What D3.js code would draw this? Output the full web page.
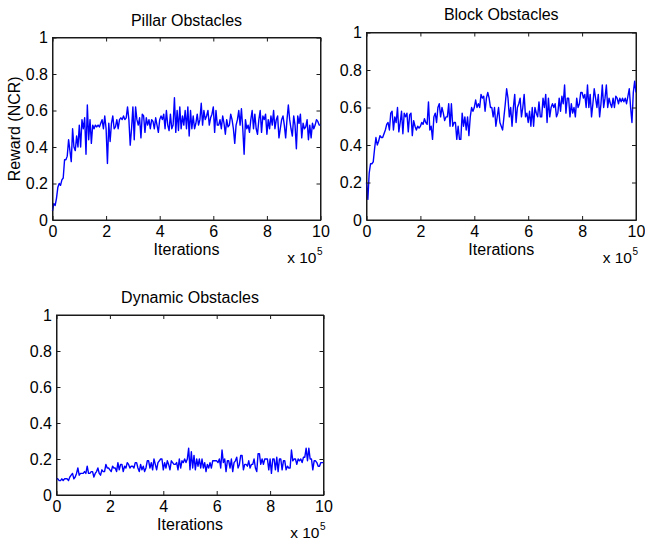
<!DOCTYPE html>
<html>
<head>
<meta charset="utf-8">
<script src="https://cdn.jsdelivr.net/npm/d3@7"></script>
<style>
  html, body { margin: 0; padding: 0; background: #fff; }
  svg { display: block; font-family: Arial, "Liberation Sans", sans-serif; }
</style>
</head>
<body>
<svg id="chart" width="645" height="544"></svg>
<script>
// ---- data ----
const iterationStep = 5000; // one sample every 5000 iterations (0 .. 1e6)

const pillarReward = [
  0.05, 0.09, 0.08, 0.12, 0.18, 0.20, 0.19, 0.22, 0.23, 0.33,
  0.33, 0.35, 0.44, 0.38, 0.32, 0.50, 0.40, 0.38, 0.46, 0.40,
  0.52, 0.40, 0.55, 0.50, 0.56, 0.36, 0.63, 0.44, 0.55, 0.42,
  0.52, 0.50, 0.52, 0.51, 0.52, 0.51, 0.53, 0.55, 0.50, 0.57,
  0.50, 0.31, 0.53, 0.43, 0.53, 0.57, 0.50, 0.51, 0.55, 0.50,
  0.55, 0.56, 0.55, 0.57, 0.55, 0.56, 0.62, 0.55, 0.41, 0.50,
  0.62, 0.44, 0.62, 0.55, 0.52, 0.56, 0.45, 0.58, 0.57, 0.48,
  0.56, 0.52, 0.55, 0.50, 0.55, 0.54, 0.50, 0.56, 0.52, 0.48,
  0.55, 0.57, 0.55, 0.58, 0.50, 0.60, 0.52, 0.49, 0.58, 0.50,
  0.52, 0.67, 0.48, 0.60, 0.49, 0.62, 0.50, 0.57, 0.52, 0.60,
  0.50, 0.62, 0.46, 0.60, 0.50, 0.57, 0.50, 0.53, 0.58, 0.52,
  0.55, 0.64, 0.52, 0.60, 0.55, 0.57, 0.60, 0.52, 0.56, 0.58,
  0.62, 0.48, 0.60, 0.52, 0.52, 0.55, 0.50, 0.57, 0.53, 0.47,
  0.55, 0.51, 0.52, 0.58, 0.55, 0.50, 0.42, 0.52, 0.55, 0.60,
  0.52, 0.61, 0.50, 0.36, 0.55, 0.50, 0.52, 0.48, 0.55, 0.60,
  0.50, 0.58, 0.50, 0.47, 0.55, 0.60, 0.48, 0.57, 0.55, 0.58,
  0.47, 0.55, 0.50, 0.57, 0.52, 0.60, 0.50, 0.55, 0.57, 0.45,
  0.50, 0.55, 0.57, 0.52, 0.45, 0.55, 0.63, 0.55, 0.50, 0.46,
  0.57, 0.52, 0.39, 0.57, 0.53, 0.58, 0.45, 0.53, 0.50, 0.51,
  0.55, 0.44, 0.52, 0.45, 0.53, 0.50, 0.52, 0.55, 0.54, 0.52,
  0.52
];

const blockReward = [
  0.20, 0.11, 0.25, 0.30, 0.30, 0.31, 0.38, 0.44, 0.40, 0.42,
  0.45, 0.44, 0.44, 0.46, 0.48, 0.51, 0.52, 0.48, 0.57, 0.58,
  0.48, 0.55, 0.52, 0.60, 0.47, 0.52, 0.58, 0.46, 0.57, 0.55,
  0.57, 0.47, 0.56, 0.57, 0.45, 0.53, 0.50, 0.48, 0.50, 0.49,
  0.50, 0.52, 0.51, 0.54, 0.52, 0.51, 0.63, 0.48, 0.50, 0.43,
  0.55, 0.57, 0.52, 0.60, 0.62, 0.55, 0.60, 0.57, 0.53, 0.55,
  0.55, 0.62, 0.50, 0.62, 0.50, 0.52, 0.52, 0.43, 0.50, 0.43,
  0.43, 0.57, 0.50, 0.55, 0.48, 0.55, 0.45, 0.55, 0.60, 0.58,
  0.60, 0.64, 0.60, 0.62, 0.60, 0.67, 0.65, 0.66, 0.58, 0.65,
  0.68, 0.65, 0.60, 0.60, 0.55, 0.60, 0.50, 0.55, 0.60, 0.52,
  0.50, 0.48, 0.55, 0.62, 0.70, 0.65, 0.55, 0.60, 0.50, 0.60,
  0.67, 0.52, 0.60, 0.62, 0.65, 0.55, 0.60, 0.67, 0.55, 0.57,
  0.52, 0.58, 0.50, 0.60, 0.50, 0.60, 0.57, 0.55, 0.63, 0.55,
  0.55, 0.65, 0.60, 0.67, 0.52, 0.65, 0.55, 0.60, 0.62, 0.60,
  0.62, 0.55, 0.57, 0.65, 0.58, 0.66, 0.62, 0.72, 0.57, 0.65,
  0.65, 0.55, 0.62, 0.57, 0.60, 0.55, 0.65, 0.60, 0.62, 0.68,
  0.68, 0.65, 0.67, 0.60, 0.72, 0.60, 0.67, 0.55, 0.62, 0.70,
  0.65, 0.60, 0.67, 0.55, 0.62, 0.72, 0.60, 0.65, 0.72, 0.60,
  0.65, 0.62, 0.60, 0.65, 0.60, 0.66, 0.65, 0.62, 0.65, 0.63,
  0.65, 0.63, 0.65, 0.62, 0.66, 0.70, 0.60, 0.52, 0.68, 0.74,
  0.68
];

const dynamicReward = [
  0.09, 0.09, 0.08, 0.08, 0.09, 0.08, 0.09, 0.09, 0.09, 0.08,
  0.10, 0.11, 0.12, 0.09, 0.10, 0.12, 0.15, 0.11, 0.12, 0.12,
  0.12, 0.13, 0.12, 0.16, 0.12, 0.12, 0.13, 0.13, 0.10, 0.12,
  0.13, 0.15, 0.12, 0.11, 0.14, 0.13, 0.13, 0.17, 0.15, 0.15,
  0.14, 0.13, 0.16, 0.15, 0.15, 0.13, 0.18, 0.14, 0.17, 0.17,
  0.13, 0.16, 0.15, 0.18, 0.17, 0.15, 0.16, 0.16, 0.15, 0.18,
  0.18, 0.15, 0.13, 0.17, 0.14, 0.16, 0.13, 0.15, 0.19, 0.19,
  0.15, 0.18, 0.14, 0.20, 0.17, 0.14, 0.18, 0.19, 0.20, 0.20,
  0.14, 0.18, 0.15, 0.19, 0.17, 0.14, 0.19, 0.18, 0.17, 0.17,
  0.18, 0.14, 0.20, 0.15, 0.19, 0.18, 0.20, 0.18, 0.20, 0.26,
  0.14, 0.24, 0.15, 0.22, 0.14, 0.20, 0.16, 0.20, 0.15, 0.20,
  0.15, 0.18, 0.13, 0.17, 0.15, 0.18, 0.15, 0.19, 0.19, 0.19,
  0.19, 0.18, 0.20, 0.15, 0.25, 0.18, 0.20, 0.13, 0.19, 0.19,
  0.15, 0.20, 0.13, 0.18, 0.19, 0.21, 0.15, 0.17, 0.22, 0.22,
  0.14, 0.17, 0.17, 0.16, 0.19, 0.15, 0.17, 0.17, 0.20, 0.15,
  0.13, 0.23, 0.23, 0.17, 0.20, 0.17, 0.20, 0.20, 0.20, 0.14,
  0.20, 0.12, 0.20, 0.20, 0.14, 0.21, 0.13, 0.20, 0.20, 0.14,
  0.19, 0.19, 0.14, 0.16, 0.15, 0.15, 0.25, 0.19, 0.20, 0.20,
  0.17, 0.20, 0.19, 0.20, 0.18, 0.21, 0.21, 0.26, 0.19, 0.26,
  0.20, 0.20, 0.14, 0.19, 0.19, 0.18, 0.16, 0.16, 0.18, 0.18,
  0.18
];

const panelTitles = ["Pillar Obstacles", "Block Obstacles", "Dynamic Obstacles"];
const xTicks = [0, 200000, 400000, 600000, 800000, 1000000];
const yTicks = [0, 0.2, 0.4, 0.6, 0.8, 1];
const xLabel = "Iterations";
const yLabel = "Reward (NCR)";

// ---- layout (positions only) ----
const panels = [
  { title: panelTitles[0], values: pillarReward,  left: 52.5,  right: 320.5, top: 37.5, bottom: 220, titleY: 26, yLabel: true },
  { title: panelTitles[1], values: blockReward,   left: 366.5, right: 636,   top: 32.5, bottom: 220, titleY: 20, yLabel: false },
  { title: panelTitles[2], values: dynamicReward, left: 56.5,  right: 323.5, top: 315,  bottom: 495, titleY: 303, yLabel: false }
];

const svg = d3.select("#chart");
const FONT = "Arial, 'Liberation Sans', sans-serif";

panels.forEach(p => {
  const x = d3.scaleLinear().domain([0, 1000000]).range([p.left, p.right]);
  const y = d3.scaleLinear().domain([0, 1]).range([p.bottom, p.top]);
  const g = svg.append("g");

  // frame
  g.append("rect")
    .attr("x", p.left).attr("y", p.top)
    .attr("width", p.right - p.left).attr("height", p.bottom - p.top)
    .attr("fill", "none").attr("stroke", "#1a1a1a").attr("stroke-width", 1);

  // data line
  const line = d3.line()
    .x((d, i) => x(i * iterationStep))
    .y(d => y(d));
  g.append("path")
    .datum(p.values)
    .attr("fill", "none")
    .attr("stroke", "#0000ff")
    .attr("stroke-width", 1.4)
    .attr("stroke-linejoin", "round")
    .attr("d", line);

  // axes (ticks pointing inward)
  const bottomAxis = d3.axisBottom(x).tickValues(xTicks).tickSize(-4).tickSizeOuter(0)
    .tickPadding(6).tickFormat(d => d3.format("d")(d / 100000));
  const leftAxis = d3.axisLeft(y).tickValues(yTicks).tickSize(-4).tickSizeOuter(0)
    .tickPadding(4.5).tickFormat(d => d3.format("~g")(d));
  const topAxis = d3.axisTop(x).tickValues(xTicks).tickSize(-4).tickSizeOuter(0).tickFormat("");
  const rightAxis = d3.axisRight(y).tickValues(yTicks).tickSize(-4).tickSizeOuter(0).tickFormat("");

  const styleAxis = sel => {
    sel.attr("font-family", FONT).attr("font-size", 16);
    sel.select(".domain").attr("stroke", "#1a1a1a");
    sel.selectAll(".tick line").attr("stroke", "#1a1a1a");
    sel.selectAll(".tick text").attr("fill", "#000");
  };

  g.append("g").attr("transform", `translate(0,${p.bottom})`).call(bottomAxis).call(styleAxis);
  g.append("g").attr("transform", `translate(${p.left},0)`).call(leftAxis).call(styleAxis);
  g.append("g").attr("transform", `translate(0,${p.top})`).call(topAxis).call(styleAxis);
  g.append("g").attr("transform", `translate(${p.right},0)`).call(rightAxis).call(styleAxis);

  // title
  g.append("text")
    .attr("x", (p.left + p.right) / 2).attr("y", p.titleY)
    .attr("text-anchor", "middle")
    .attr("font-family", FONT).attr("font-size", 16)
    .text(p.title);

  // x label
  g.append("text")
    .attr("x", (p.left + p.right) / 2).attr("y", p.bottom + 35)
    .attr("text-anchor", "middle")
    .attr("font-family", FONT).attr("font-size", 16)
    .text(xLabel);

  // x 10^5 multiplier
  g.append("text")
    .attr("x", p.right - 4).attr("y", p.bottom + 43)
    .attr("text-anchor", "end")
    .attr("font-family", FONT).attr("font-size", 15.5)
    .text("x 10");
  g.append("text")
    .attr("x", p.right - 3.5).attr("y", p.bottom + 35)
    .attr("font-family", FONT).attr("font-size", 10)
    .text("5");

  if (p.yLabel) {
    g.append("text")
      .attr("transform", `translate(20,${(p.top + p.bottom) / 2}) rotate(-90)`)
      .attr("text-anchor", "middle")
      .attr("font-family", FONT).attr("font-size", 16)
      .text(yLabel);
  }
});
</script>
</body>
</html>
